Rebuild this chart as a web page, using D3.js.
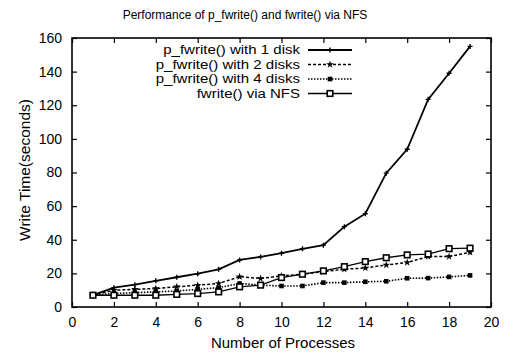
<!DOCTYPE html>
<html><head><meta charset="utf-8">
<script src="https://cdn.jsdelivr.net/npm/d3@7"></script>
<style>body{margin:0;background:#fff}svg{display:block;font-family:"Liberation Sans",Arial,sans-serif}</style>
</head><body><svg id="c" width="507" height="355"></svg>
<script>
const procs = [1,2,3,4,5,6,7,8,9,10,11,12,13,14,15,16,17,18,19];
const disk1 = [7.1,11.5,13.3,15.6,17.7,19.8,22.4,28,29.8,32,34.6,36.8,47.8,55.5,79.6,93.8,123.5,139,155];
const disk2 = [7,10,10.5,11,12,13,14,18,17,18.5,19.5,21,22.5,23.2,25,26.5,30,30,32.5];
const disk4 = [7,8,8.5,9,9.5,10.5,11.5,14,13,12.5,12.5,14.5,14.5,15,15.3,17.1,17.2,17.9,18.8];
const nfs   = [7,7,7,7,7.5,8,9,12,13,17.5,19.5,21.5,24,27,29.3,31,31.5,34.7,35];
const seriesNames = ["p_fwrite() with 1 disk","p_fwrite() with 2 disks","p_fwrite() with 4 disks","fwrite() via NFS"];
const xTicks = [0,2,4,6,8,10,12,14,16,18,20];
const yTicks = [0,20,40,60,80,100,120,140,160];
const titleText = "Performance of p_fwrite() and fwrite() via NFS";
const xLabel = "Number of Processes";
const yLabel = "Write Time(seconds)";

const svg = d3.select("#c");
const L=72,R=491,T=38,B=307;
const x = d3.scaleLinear().domain([0,20]).range([L,R]);
const y = d3.scaleLinear().domain([0,160]).range([B,T]);

svg.append("rect").attr("x",L).attr("y",T).attr("width",R-L).attr("height",B-T)
  .attr("fill","none").attr("stroke","#000").attr("stroke-width",1.6);

const tl=5;
const ax = (g,axis)=>{g.call(axis); g.select(".domain").remove(); g.selectAll("line").attr("stroke","#000").attr("stroke-width",1.2);};
svg.append("g").attr("transform",`translate(0,${B})`).call(g=>ax(g,d3.axisBottom(x).tickValues(xTicks).tickSize(-tl).tickPadding(tl+5).tickFormat(d3.format("d"))))
  .selectAll("text").attr("font-size",14).attr("fill","#000");
svg.append("g").attr("transform",`translate(0,${T})`).call(g=>ax(g,d3.axisTop(x).tickValues(xTicks).tickSize(-tl).tickFormat("")));
svg.append("g").attr("transform",`translate(${L},0)`).call(g=>ax(g,d3.axisLeft(y).tickValues(yTicks).tickSize(-tl).tickPadding(tl+5).tickFormat(d3.format("d"))))
  .selectAll("text").attr("font-size",14).attr("fill","#000");
svg.append("g").attr("transform",`translate(${R},0)`).call(g=>ax(g,d3.axisRight(y).tickValues(yTicks).tickSize(-tl).tickFormat("")));

const series = [
  {name:seriesNames[0], vals:disk1, dash:null, w:1.8, mk:"plus"},
  {name:seriesNames[1], vals:disk2, dash:"3,2", w:1.5, mk:"star"},
  {name:seriesNames[2], vals:disk4, dash:"1.5,1.5", w:1.6, mk:"dot"},
  {name:seriesNames[3], vals:nfs, dash:null, w:1.3, mk:"square"}
];
const line = d3.line().x((d,i)=>x(procs[i])).y(d=>y(d));
function marker(g,type,cx,cy){
  if(type==="plus"){
    g.append("path").attr("d",`M${cx-2.5},${cy}H${cx+2.5}M${cx},${cy-2.5}V${cy+2.5}`).attr("stroke","#000").attr("stroke-width",1.4);
  } else if(type==="star"){
    g.append("path").attr("d",d3.symbol(d3.symbolStar,18)()).attr("transform",`translate(${cx},${cy})`).attr("fill","#000");
  } else if(type==="dot"){
    g.append("rect").attr("x",cx-2.3).attr("y",cy-2.3).attr("width",4.6).attr("height",4.6).attr("fill","#000");
  } else {
    g.append("rect").attr("x",cx-2.8).attr("y",cy-2.8).attr("width",5.6).attr("height",5.6).attr("fill","#fff").attr("stroke","#000").attr("stroke-width",1.6);
  }
}
series.forEach(s=>{
  svg.append("path").attr("d",line(s.vals)).attr("fill","none").attr("stroke","#000")
    .attr("stroke-width",s.w).attr("stroke-dasharray",s.dash);
  const g=svg.append("g");
  s.vals.forEach((v,i)=>marker(g,s.mk,x(procs[i]),y(v)));
});

const ly0=50, lsp=14.5, ltx=300, lx1=308, lx2=352;
series.forEach((s,i)=>{
  const yy=ly0+i*lsp;
  const t=svg.append("text").attr("x",ltx).attr("y",yy).attr("dy","0.35em").attr("text-anchor","end")
    .attr("font-size",12.5).text(s.name);
  const len=t.node().getComputedTextLength();
  t.attr("textLength",len*1.2).attr("lengthAdjust","spacingAndGlyphs");
  svg.append("line").attr("x1",lx1).attr("x2",lx2).attr("y1",yy).attr("y2",yy).attr("stroke","#000")
    .attr("stroke-width",s.w).attr("stroke-dasharray",s.dash);
  marker(svg,s.mk,(lx1+lx2)/2,yy);
});

svg.append("text").attr("x",245).attr("y",19).attr("text-anchor","middle").attr("font-size",12).text(titleText);
svg.append("text").attr("x",283).attr("y",348).attr("text-anchor","middle").attr("font-size",15).text(xLabel);
svg.append("text").attr("transform","translate(30,170) rotate(-90)").attr("text-anchor","middle").attr("font-size",15.5).text(yLabel);
</script></body></html>
